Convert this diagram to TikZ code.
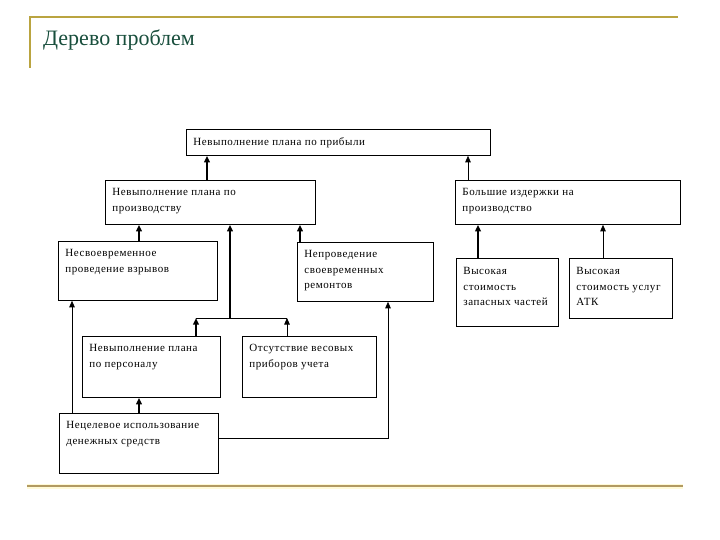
\documentclass[tikz,border=0pt]{standalone}
\usepackage{fontspec}
\setmainfont{Liberation Serif}
\usetikzlibrary{arrows.meta}

\definecolor{titlegreen}{RGB}{24,78,60}
\definecolor{framegold}{RGB}{186,164,64}
\definecolor{framebrown}{RGB}{178,154,98}
\definecolor{glow}{RGB}{255,250,215}

% text block inside a box: width, height (px), text
\newcommand{\cellbox}[3]{\parbox[c][\dimexpr#2pt-16pt\relax][t]{\dimexpr#1pt-14pt\relax}{\raggedright #3}}

\tikzset{
  problem/.style={draw,line width=0.8pt,anchor=north west,inner xsep=7pt,inner ysep=8pt,
    font=\fontsize{11}{15.5}\selectfont\addfontfeature{LetterSpace=5}},
  strong/.style={-{Triangle[length=6.5pt,width=5.5pt]},line width=1.8pt},
  weak/.style={-{Triangle[length=6.5pt,width=5.5pt]},line width=0.8pt}
}

\begin{document}
\begin{tikzpicture}[x=1pt,y=-1pt]
  \useasboundingbox (0,0) rectangle (720,540);

  % frame
  \draw[glow,line width=5pt] (27,486) -- (683,486);
  \draw[framegold,line width=1.6pt] (30,68) -- (30,17) -- (678,17);
  \draw[framebrown,line width=1.8pt] (27,486) -- (683,486);
  \node[anchor=west,inner sep=0pt,text=titlegreen,font=\fontsize{22}{26}\selectfont] (title) at (43,40) {Дерево проблем};

  % boxes
  \node[problem] (top) at (186,129) {\cellbox{304}{26}{Невыполнение плана по прибыли}};
  \node[problem] (prod) at (105,180) {\cellbox{210}{44}{Невыполнение плана по\\производству}};
  \node[problem] (cost) at (455,180) {\cellbox{225}{44}{Большие издержки на\\производство}};
  \node[problem] (blast) at (58,241) {\cellbox{159}{59}{Несвоевременное\\проведение взрывов}};
  \node[problem] (repair) at (297,242) {\cellbox{136}{59}{Непроведение\\своевременных\\ремонтов}};
  \node[problem] (parts) at (456,258) {\cellbox{102}{68}{\vspace{1pt}Высокая\\стоимость\\запасных частей}};
  \node[problem] (atk) at (569,258) {\cellbox{103}{60}{\vspace{1pt}Высокая\\стоимость услуг\\АТК}};
  \node[problem] (staff) at (82,336) {\cellbox{138}{61}{Невыполнение плана\\по персоналу}};
  \node[problem] (scales) at (242,336) {\cellbox{134}{61}{Отсутствие весовых\\приборов учета}};
  \node[problem] (money) at (59,413) {\cellbox{159}{60}{Нецелевое использование\\денежных средств}};

  \coordinate (junc) at (230,318);

  % connectors
  \draw[strong] (207,0 |- prod.north) -- (207,0 |- top.south);
  \draw[weak] (468,0 |- cost.north) -- (468,0 |- top.south);
  \draw[strong] (139,0 |- blast.north) -- (139,0 |- prod.south);
  \draw[strong] (junc) -- (230,0 |- prod.south);
  \draw[strong] (300,0 |- repair.north) -- (300,0 |- prod.south);
  \draw[line width=0.8pt] (196,0 |- junc) -- (287,0 |- junc);
  \draw[strong] (196,0 |- staff.north) -- (196,0 |- junc);
  \draw[weak] (287,0 |- scales.north) -- (287,0 |- junc);
  \draw[weak] (72,0 |- money.north) -- (72,0 |- blast.south);
  \draw[strong] (139,0 |- money.north) -- (139,0 |- staff.south);
  \draw[weak] (money.east |- 0,438) -- (388,438) -- (388,0 |- repair.south);
  \draw[strong] (478,0 |- parts.north) -- (478,0 |- cost.south);
  \draw[weak] (603,0 |- atk.north) -- (603,0 |- cost.south);
\end{tikzpicture}
\end{document}
